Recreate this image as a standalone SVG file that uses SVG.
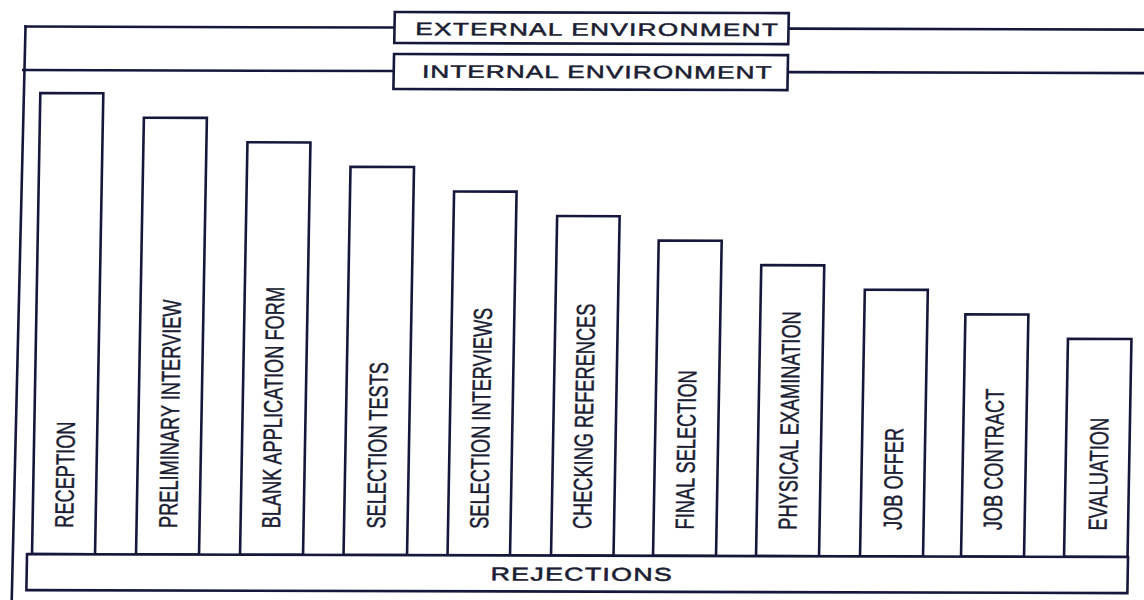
<svg xmlns="http://www.w3.org/2000/svg" width="1144" height="600" viewBox="0 0 1144 600">
  <style>
    .ln { fill: none; stroke: #15183a; stroke-width: 2.6; stroke-linecap: square; }
    .box { fill: #ffffff; stroke: #15183a; stroke-width: 2.6; }
    .hd { font-family: "Liberation Sans", Arial, sans-serif; font-size: 18px; fill: #1b1d33; stroke: #1b1d33; stroke-width: 0.5; text-anchor: middle; }
    .vt { font-family: "Liberation Sans", Arial, sans-serif; font-size: 26px; fill: #1b1d33; stroke: #1b1d33; stroke-width: 0.45; }
  </style>
  <rect width="1144" height="600" fill="#ffffff"/>
  <!-- whole sheet sits slightly skewed, as printed -->
  <g transform="matrix(1,0.0027,-0.018,1,0,0)">
    <g id="connectors">
      <path class="ln" d="M26,26.5 L22.5,605"/>
      <path class="ln" d="M26,26.5 H395 M789,26.5 H1160"/>
      <path class="ln" d="M24.5,70 H395 M789,70 H1160"/>
    </g>

    <g id="external-environment">
      <rect class="box" x="395" y="11" width="394" height="31"/>
      <g transform="translate(597,34) scale(1.45,1)">
        <text class="hd" x="0" y="0" textLength="250" lengthAdjust="spacing">EXTERNAL ENVIRONMENT</text>
      </g>
    </g>

    <g id="internal-environment">
      <rect class="box" x="395" y="53" width="394" height="35"/>
      <g transform="translate(598,76.5) scale(1.45,1)">
        <text class="hd" x="0" y="0" textLength="241" lengthAdjust="spacing">INTERNAL ENVIRONMENT</text>
      </g>
    </g>

    <g id="reception">
      <rect class="box" x="42" y="93" width="63" height="461"/>
      <text class="vt" transform="translate(82.5,527.5) rotate(-90) scale(0.7,1)">RECEPTION</text>
    </g>
    <g id="preliminary-interview">
      <rect class="box" x="146" y="117.3" width="63" height="436.7"/>
      <text class="vt" transform="translate(186.5,527.5) rotate(-90) scale(0.7,1)">PRELIMINARY INTERVIEW</text>
    </g>
    <g id="blank-application-form">
      <rect class="box" x="250" y="141.6" width="63" height="412.4"/>
      <text class="vt" transform="translate(289.5,527.5) rotate(-90) scale(0.7,1)">BLANK APPLICATION FORM</text>
    </g>
    <g id="selection-tests">
      <rect class="box" x="353.5" y="165.9" width="63.5" height="388.1"/>
      <text class="vt" transform="translate(394.5,527.5) rotate(-90) scale(0.7,1)">SELECTION TESTS</text>
    </g>
    <g id="selection-interviews">
      <rect class="box" x="457.5" y="190.2" width="62.5" height="363.8"/>
      <text class="vt" transform="translate(497.5,527.5) rotate(-90) scale(0.7,1)">SELECTION INTERVIEWS</text>
    </g>
    <g id="checking-references">
      <rect class="box" x="561" y="214.5" width="62.5" height="339.5"/>
      <text class="vt" transform="translate(600.5,527.5) rotate(-90) scale(0.7,1)">CHECKING REFERENCES</text>
    </g>
    <g id="final-selection">
      <rect class="box" x="663" y="238.8" width="63" height="315.2"/>
      <text class="vt" transform="translate(703,527.5) rotate(-90) scale(0.7,1)">FINAL SELECTION</text>
    </g>
    <g id="physical-examination">
      <rect class="box" x="766" y="263.1" width="63" height="290.9"/>
      <text class="vt" transform="translate(806,527.5) rotate(-90) scale(0.7,1)">PHYSICAL EXAMINATION</text>
    </g>
    <g id="job-offer">
      <rect class="box" x="870" y="287.4" width="63" height="266.6"/>
      <text class="vt" transform="translate(911,527.5) rotate(-90) scale(0.7,1)">JOB OFFER</text>
    </g>
    <g id="job-contract">
      <rect class="box" x="971" y="311.7" width="63" height="242.3"/>
      <text class="vt" transform="translate(1011,527.5) rotate(-90) scale(0.7,1)">JOB CONTRACT</text>
    </g>
    <g id="evaluation">
      <rect class="box" x="1074" y="336" width="63.5" height="218"/>
      <text class="vt" transform="translate(1116,527.5) rotate(-90) scale(0.7,1)">EVALUATION</text>
    </g>

    <g id="rejections">
      <rect class="box" x="37" y="554" width="1101" height="36"/>
      <g transform="translate(591.5,579) scale(1.45,1)">
        <text class="hd" x="0" y="0" style="font-size:18.5px" textLength="125" lengthAdjust="spacing">REJECTIONS</text>
      </g>
    </g>
  </g>
</svg>
